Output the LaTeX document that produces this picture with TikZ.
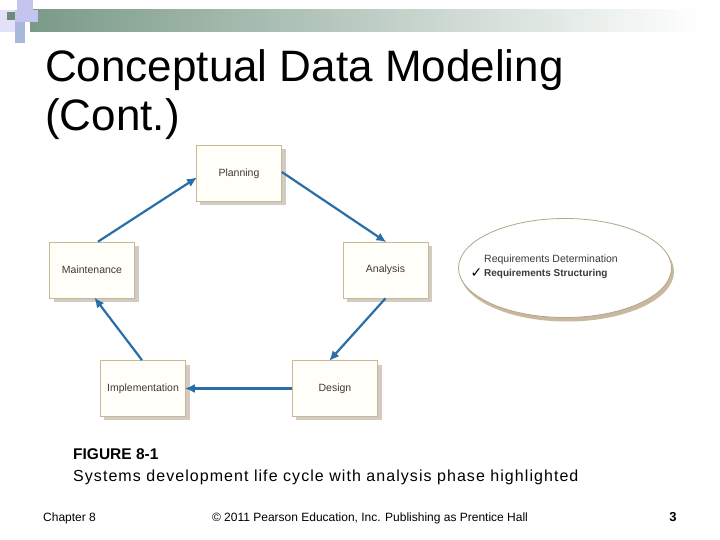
\documentclass[tikz,border=0pt]{standalone}
\usepackage{fontspec}
\setmainfont{Liberation Sans}
\newfontfamily\symfont{DejaVu Sans}
\newfontfamily\capfont[LetterSpace=6.6]{Liberation Sans}
\usetikzlibrary{shapes.geometric,arrows.meta}
\definecolor{arrowblue}{HTML}{2A6EA8}
\definecolor{boxedge}{HTML}{C8B894}
\definecolor{boxfill}{HTML}{FFFEF8}
\definecolor{shadowgray}{HTML}{D2CBC3}
\definecolor{bargreen}{HTML}{7A9A88}
\definecolor{lav}{HTML}{C4C4EE}
\definecolor{lavblue}{HTML}{A8B8DC}
\definecolor{labelgray}{HTML}{3A3A3A}
\definecolor{ellshadow}{HTML}{C8B8A0}
\tikzset{
  phase/.style={draw=boxedge, line width=0.7pt, fill=boxfill, minimum width=85pt, minimum height=56pt, inner sep=0pt, font=\fontsize{10.5}{12}\selectfont, text=labelgray},
  cyc/.style={draw=arrowblue, line width=2.2pt, -{Latex[length=10pt,width=9pt]}, shorten >=-1pt}
}
\begin{document}
\begin{tikzpicture}[x=1pt,y=-1pt]
\useasboundingbox (0,0) rectangle (720,540);
\fill[white] (0,0) rectangle (720,540);
% header decoration
\shade[left color=bargreen, right color=white] (30,10) rectangle (700,32);
\fill[white] (700,10) rectangle (720,32);
\fill[lav] (17,0) rectangle (33,10);
\fill[lav!50] (0,10) rectangle (15,32);
\fill[bargreen!90!black] (7,12) rectangle (15,20);
\fill[lav] (15,10) rectangle (38,22);
\fill[lavblue] (15,22) rectangle (25,43);
% title
\node[anchor=base west, inner sep=0pt, font=\fontsize{44}{50}\selectfont] (t1) at (45,82) {Conceptual Data Modeling};
\node[anchor=base west, inner sep=0pt, font=\fontsize{44}{50}\selectfont] (t2) at (45,131) {(Cont.)};
% shadows
\fill[shadowgray] (200,149) rectangle (286,205);
\fill[shadowgray] (347,246) rectangle (432,302);
\fill[shadowgray] (54,246) rectangle (139,302);
\fill[shadowgray] (104,365) rectangle (190,420);
\fill[shadowgray] (296,365) rectangle (382,420);
% phases
\node[phase] (plan) at (239,173.5) {Planning};
\node[phase] (anal) at (385.5,270) {Analysis};
\node[phase] (main) at (92,270) {Maintenance};
\node[phase] (impl) at (143,388.5) {Implementation};
\node[phase] (des) at (335,388.5) {Design};
% arrows
\draw[cyc] (main.north) ++(6,0) coordinate (m1) -- (plan.west |- 0,178) coordinate (p1);
\draw[cyc] (plan.east |- 0,172) -- (anal.north);
\draw[cyc] (anal.south) -- ([xshift=-48pt]des.north east |- des.north);
\draw[cyc] (des.west) -- (impl.east);
\draw[cyc] ([xshift=-1pt]impl.north) -- ([xshift=3pt]main.south);
% ellipse
\fill[ellshadow] (567,271.5) ellipse [x radius=107, y radius=50];
\node[ellipse, draw=boxedge!90!black, line width=0.8pt, fill=white, minimum width=213pt, minimum height=99pt, inner sep=0pt] (ell) at (565,268) {};
\node[anchor=base west, inner sep=0pt, font=\fontsize{10.5}{12}\selectfont, text=labelgray] (r1) at (484,262) {Requirements Determination};
\node[anchor=base west, inner sep=0pt, font=\fontsize{10}{12}\selectfont\bfseries, text=labelgray] (r2) at (484,276) {Requirements Structuring};
\node[anchor=base east, inner sep=0pt, font=\fontsize{14}{12}\symfont\bfseries, text=black] (ck) at (482.5,277) {✓};
% caption
\node[anchor=base west, inner sep=0pt, font=\fontsize{15.5}{18}\selectfont\bfseries] (c1) at (73,459) {FIGURE 8-1};
\node[anchor=base west, inner sep=0pt, font=\fontsize{16}{18}\capfont] (c2) at (73,481) {Systems development life cycle with analysis phase highlighted};
% footer
\node[anchor=base west, inner sep=0pt, font=\fontsize{12}{14}\selectfont] (f1) at (43,521) {Chapter 8};
\node[anchor=base, inner sep=0pt, font=\fontsize{12}{14}\selectfont] (f2) at (370,521) {© 2011 Pearson Education, Inc. Publishing as Prentice Hall};
\node[anchor=base, inner sep=0pt, font=\fontsize{13}{14}\selectfont\bfseries] (f3) at (673,521) {3};
\end{tikzpicture}
\end{document}
